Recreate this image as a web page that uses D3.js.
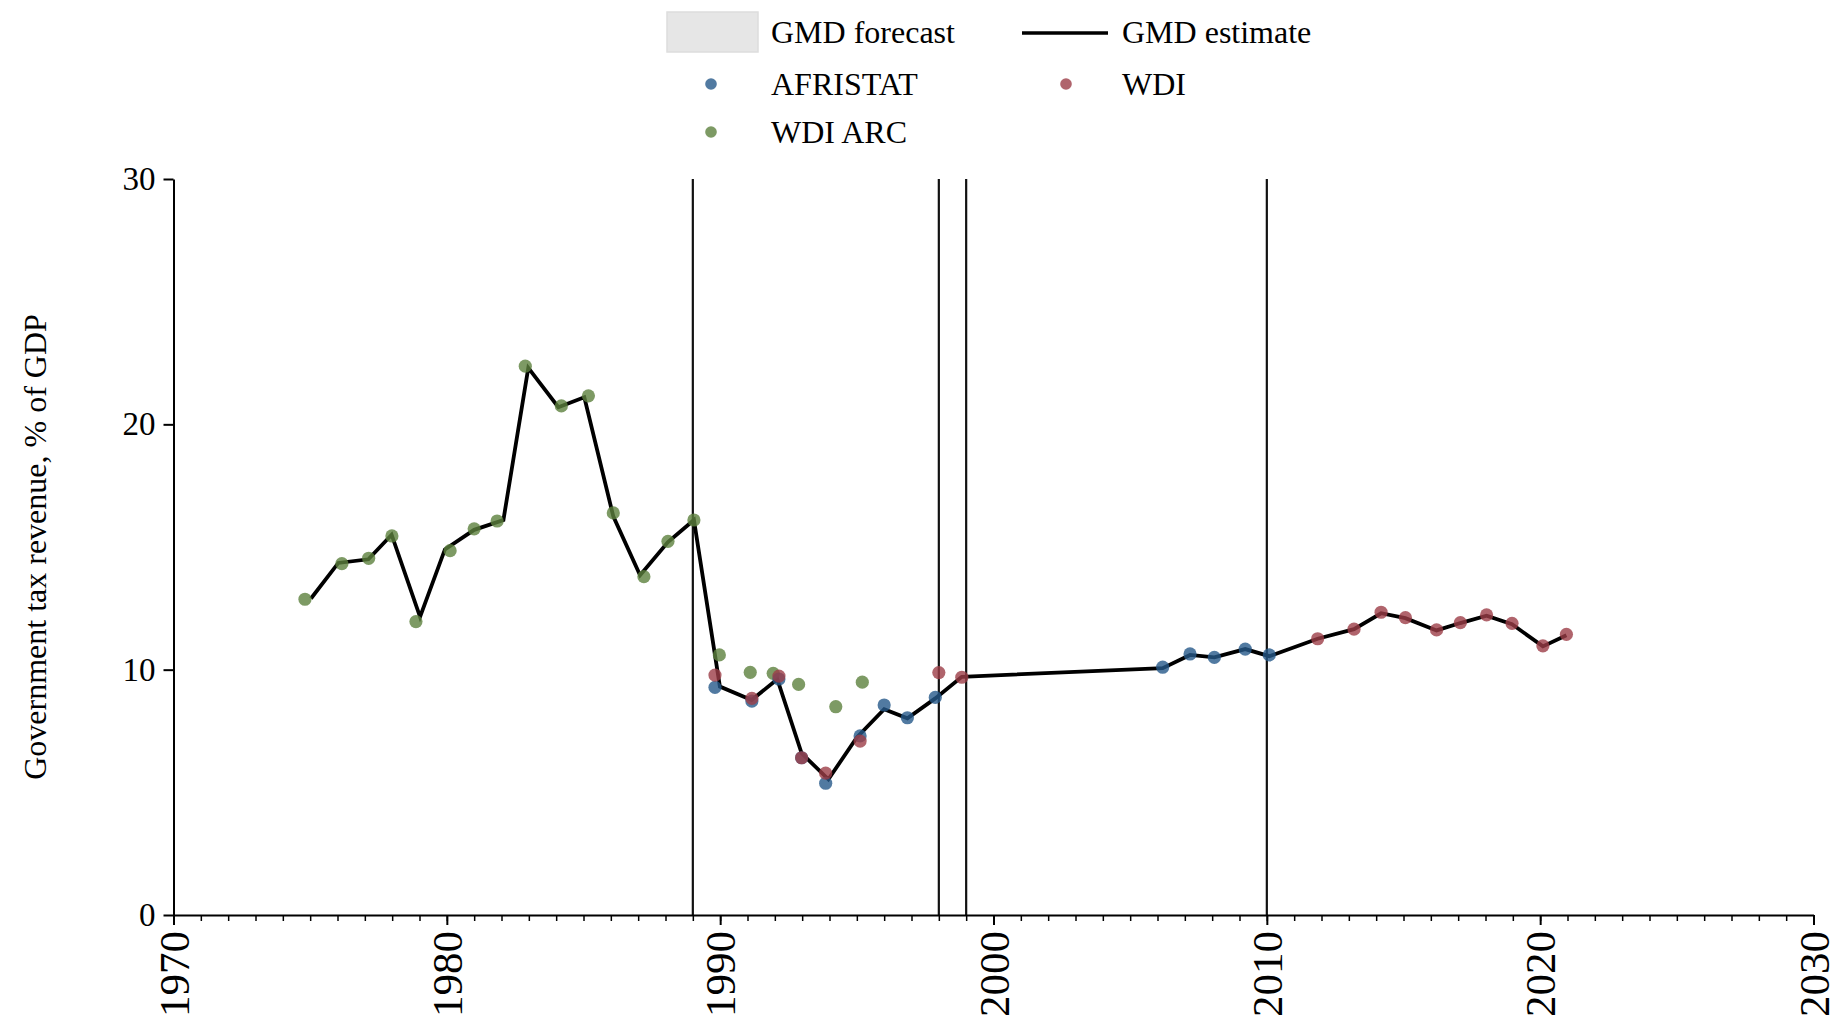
<!DOCTYPE html>
<html>
<head>
<meta charset="utf-8">
<script src="https://cdn.jsdelivr.net/npm/d3@7"></script>
<style>
  body { margin: 0; background: #fff; }
  svg { display: block; font-family: "Liberation Serif", "Times New Roman", serif; }
</style>
</head>
<body>
<div id="chart"></div>
<script>
// ---- data ----
const GMD_YEARS = [1975.03, 1976.03, 1977.13, 1977.98, 1979.02, 1979.93, 1981.0, 1982.07, 1982.98, 1984.08,
  1985.03, 1986.09, 1987.07, 1988.09, 1989.04, 1989.99, 1991.15, 1992.09, 1992.98, 1993.96,
  1995.0, 1996.0, 1996.85, 1997.87, 1998.84, 2006.19, 2007.19, 2008.08, 2009.21, 2010.09,
  2011.86, 2013.19, 2014.18, 2015.07, 2016.21, 2017.08, 2018.04, 2018.97, 2020.1, 2020.96];
const GMD_VALUES = [12.9, 14.35, 14.5, 15.5, 12.15, 14.9, 15.7, 16.1, 22.3, 20.7,
  21.1, 16.25, 13.85, 15.2, 16.1, 9.31, 8.76, 9.61, 6.59, 5.53,
  7.24, 8.39, 8.02, 8.83, 9.71, 10.06, 10.6, 10.5, 10.84, 10.55,
  11.26, 11.65, 12.3, 12.1, 11.6, 11.9, 12.2, 11.85, 10.95, 11.4];

const AFRISTAT_YEARS = [1989.81, 1991.16, 1992.15, 1992.98, 1993.86, 1995.12, 1996.0, 1996.85, 1997.87,
  2006.19, 2007.19, 2008.08, 2009.21, 2010.09];
const AFRISTAT_VALUES = [9.28, 8.72, 9.62, 6.41, 5.37, 7.3, 8.56, 8.04, 8.87,
  10.1, 10.64, 10.5, 10.84, 10.6];

const WDI_YEARS = [1989.81, 1991.16, 1992.15, 1992.98, 1993.86, 1995.12, 1998.0, 1998.84,
  2011.86, 2013.19, 2014.18, 2015.07, 2016.21, 2017.08, 2018.04, 2018.97, 2020.1, 2020.96];
const WDI_VALUES = [9.78, 8.83, 9.74, 6.41, 5.78, 7.09, 9.88, 9.69,
  11.26, 11.65, 12.34, 12.12, 11.62, 11.92, 12.23, 11.89, 10.97, 11.44];

const WDI_ARC_YEARS = [1974.81, 1976.16, 1977.14, 1977.99, 1978.87, 1980.12, 1981.0, 1981.84, 1982.87, 1984.19,
  1985.18, 1986.09, 1987.21, 1988.09, 1989.04, 1989.97, 1991.1, 1991.94, 1992.87, 1994.23, 1995.2];
const WDI_ARC_VALUES = [12.87, 14.32, 14.54, 15.45, 11.96, 14.85, 15.74, 16.06, 22.37, 20.75,
  21.16, 16.39, 13.79, 15.23, 16.1, 10.6, 9.89, 9.85, 9.4, 8.49, 9.49];

const BREAK_YEARS = [1989, 1998, 1999, 2010]; // vertical reference lines
const X_TICKS = [1970, 1980, 1990, 2000, 2010, 2020, 2030];
const X_MINOR = d3.range(1970, 2031);
const Y_TICKS = [0, 10, 20, 30];

// ---- layout ----
const W = 1837, H = 1019;
const PLOT = {left: 173.5, right: 1813.5, top: 179, bottom: 915};
const COLORS = {afristat: "#26598a", wdi: "#9c3d47", arc: "#5c813d"};

const x = d3.scaleLinear().domain([1970, 2030]).range([PLOT.left, PLOT.right]);
const y = d3.scaleLinear().domain([0, 30]).range([PLOT.bottom, PLOT.top]);

const svg = d3.select("#chart").append("svg")
  .attr("width", W)
  .attr("height", H);

// vertical break lines
svg.append("g").selectAll("line")
  .data(BREAK_YEARS)
  .join("line")
  .attr("x1", d => x(d)).attr("x2", d => x(d))
  .attr("y1", y(30)).attr("y2", y(0))
  .attr("stroke", "#111")
  .attr("stroke-width", 2.2);

// GMD estimate line
const gmd = GMD_YEARS.map((yr, i) => ({year: yr, value: GMD_VALUES[i]}));
svg.append("path")
  .datum(gmd)
  .attr("fill", "none")
  .attr("stroke", "#000")
  .attr("stroke-width", 3.8)
  .attr("stroke-linejoin", "miter")
  .attr("d", d3.line().x(d => x(d.year)).y(d => y(d.value)));

// source dots
const drawDots = function(years, values, color){
  svg.append("g").selectAll("circle")
    .data(years.map((yr, i) => ({year: yr, value: values[i]})))
    .join("circle")
    .attr("cx", d => x(d.year))
    .attr("cy", d => y(d.value))
    .attr("r", 6.6)
    .attr("fill", color)
    .attr("fill-opacity", 0.8);
};
drawDots(WDI_ARC_YEARS, WDI_ARC_VALUES, COLORS.arc);
drawDots(AFRISTAT_YEARS, AFRISTAT_VALUES, COLORS.afristat);
drawDots(WDI_YEARS, WDI_VALUES, COLORS.wdi);

// x axis: minor yearly ticks + labelled decades
svg.append("g")
  .attr("transform", `translate(0,${PLOT.bottom})`)
  .call(d3.axisBottom(x).tickValues(X_MINOR).tickSize(6).tickSizeOuter(0).tickFormat(""))
  .call(g => g.select(".domain").remove())
  .call(g => g.selectAll(".tick line").attr("stroke", "#000").attr("stroke-width", 1.5));

const xAxis = svg.append("g")
  .attr("transform", `translate(0,${PLOT.bottom})`)
  .call(d3.axisBottom(x).tickValues(X_TICKS).tickSize(10).tickSizeOuter(0).tickFormat(d3.format("d")));
xAxis.select(".domain").attr("stroke", "#000").attr("stroke-width", 2);
xAxis.selectAll(".tick line").attr("stroke", "#000").attr("stroke-width", 2);
xAxis.selectAll(".tick text")
  .attr("font-family", "Liberation Serif, serif")
  .attr("font-size", 43)
  .attr("fill", "#000")
  .attr("y", 0)
  .attr("x", -16)
  .attr("dy", "0.34em")
  .attr("text-anchor", "end")
  .attr("transform", "rotate(-90)");

// y axis
const yAxis = svg.append("g")
  .attr("transform", `translate(${PLOT.left},0)`)
  .call(d3.axisLeft(y).tickValues(Y_TICKS).tickSize(10).tickPadding(8).tickSizeOuter(0));
yAxis.select(".domain").attr("stroke", "#000").attr("stroke-width", 2);
yAxis.selectAll(".tick line").attr("stroke", "#000").attr("stroke-width", 2);
yAxis.selectAll(".tick text")
  .attr("font-family", "Liberation Serif, serif")
  .attr("font-size", 33)
  .attr("fill", "#000");

svg.append("text")
  .attr("transform", `translate(46,${(PLOT.top + PLOT.bottom) / 2}) rotate(-90)`)
  .attr("text-anchor", "middle")
  .attr("font-size", 32)
  .text("Government tax revenue, % of GDP");

// legend
const LEG = svg.append("g").attr("font-size", 32);
LEG.append("rect")
  .attr("x", 667).attr("y", 12).attr("width", 91).attr("height", 40)
  .attr("fill", "#e6e6e6").attr("stroke", "#dddddd").attr("stroke-width", 1.5);
LEG.append("text").attr("x", 771).attr("y", 43).text("GMD forecast");
LEG.append("line")
  .attr("x1", 1022).attr("x2", 1108).attr("y1", 33).attr("y2", 33)
  .attr("stroke", "#000").attr("stroke-width", 3.5);
LEG.append("text").attr("x", 1122).attr("y", 43).text("GMD estimate");

const legendDots = [
  {label: "AFRISTAT", color: COLORS.afristat, cx: 711, tx: 771, cy: 84},
  {label: "WDI", color: COLORS.wdi, cx: 1066, tx: 1122, cy: 84},
  {label: "WDI ARC", color: COLORS.arc, cx: 711, tx: 771, cy: 132}
];
legendDots.forEach(d => {
  LEG.append("circle").attr("cx", d.cx).attr("cy", d.cy).attr("r", 5.8)
    .attr("fill", d.color).attr("fill-opacity", 0.8);
  LEG.append("text").attr("x", d.tx).attr("y", d.cy + 11).text(d.label);
});
</script>
</body>
</html>
